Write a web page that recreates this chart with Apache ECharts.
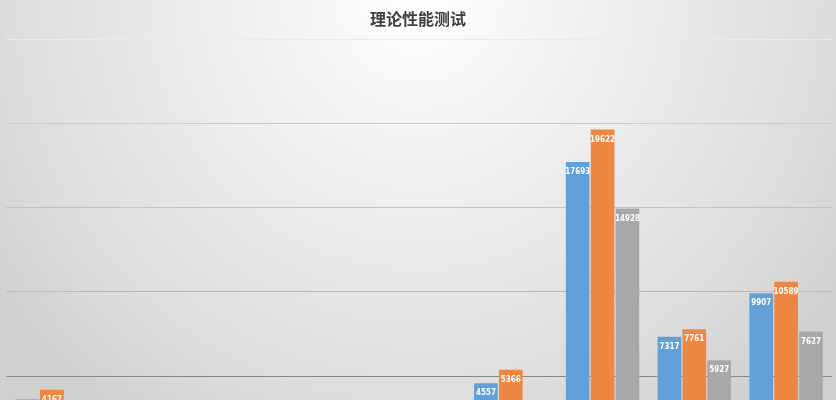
<!DOCTYPE html>
<html>
<head>
<meta charset="utf-8">
<script src="https://cdn.jsdelivr.net/npm/echarts@6/dist/echarts.min.js"></script>
<style>
html,body{margin:0;padding:0;overflow:hidden;}
#chart{width:836px;height:400px;}
</style>
</head>
<body>
<div id="chart"></div>
<script>
// 类目（底部被截掉，看不到名称）
var categories = ['测试1','测试2','测试3','测试4','测试5','测试6','测试7','测试8','测试9'];
// 三组数据（下方看不到的柱子为估计值）
var seriesA = [3600, 1520, 2340, 980, 2860, 4557, 17693, 7317, 9907];
var seriesB = [4167, 1790, 2710, 1150, 3240, 5366, 19622, 7761, 10589];
var seriesC = [3100, 1260, 1980, 830, 2450, 3410, 14928, 5927, 7627];
var seriesNames = ['A','B','C'];
var colors = ['#62a0d9','#ee8743','#a8a8a8'];

var myChart = echarts.init(document.getElementById('chart'));

function makeSeries(name, data, color){
	return {
		name: name,
		type: 'bar',
		data: data,
		barGap: '5%',
		barCategoryGap: '20%',
		itemStyle: { color: color },
		label: {
			show: true,
			position: 'insideTop',
			distance: 6,
			color: '#fff',
			fontSize: 8,
			fontWeight: 'bold',
			fontFamily: 'Liberation Sans Narrow, DejaVu Sans Condensed, sans-serif'
		}
	};
}

var option = {
	backgroundColor: {
		type: 'radial', x: 0.5, y: 0, r: 1.3,
		colorStops: [
			{ offset: 0, color: '#ffffff' },
			{ offset: 0.3, color: '#f2f2f2' },
			{ offset: 0.8, color: '#dcdcdc' },
			{ offset: 1, color: '#d0d0d0' }
		]
	},
	title: {
		text: '理论性能测试',
		left: 'center',
		top: 6,
		textStyle: {
			fontFamily: 'Noto Sans CJK SC',
			fontSize: 16,
			fontWeight: 'bold',
			color: '#404040'
		}
	},
	animation: false,
	// 图表底部被裁掉，0 刻度在画布外
	grid: { left: 6, right: 4, top: 39, height: 421, outerBoundsMode: 'none' },
	xAxis: {
		type: 'category',
		data: categories,
		axisLine: { show: false },
		axisTick: { show: false },
		axisLabel: { show: false }
	},
	yAxis: {
		type: 'value',
		min: 0,
		max: 25000,
		interval: 5000,
		axisLabel: { show: false },
		axisLine: { show: false },
		axisTick: { show: false },
		splitLine: {
			lineStyle: {
				color: ['#999', '#888888', '#bababa', '#c4c4c4', '#cccccc', '#ebebeb'],
				width: 1
			}
		}
	},
	series: [
		makeSeries(seriesNames[0], seriesA, colors[0]),
		makeSeries(seriesNames[1], seriesB, colors[1]),
		makeSeries(seriesNames[2], seriesC, colors[2])
	]
};
myChart.setOption(option);
</script>
</body>
</html>
